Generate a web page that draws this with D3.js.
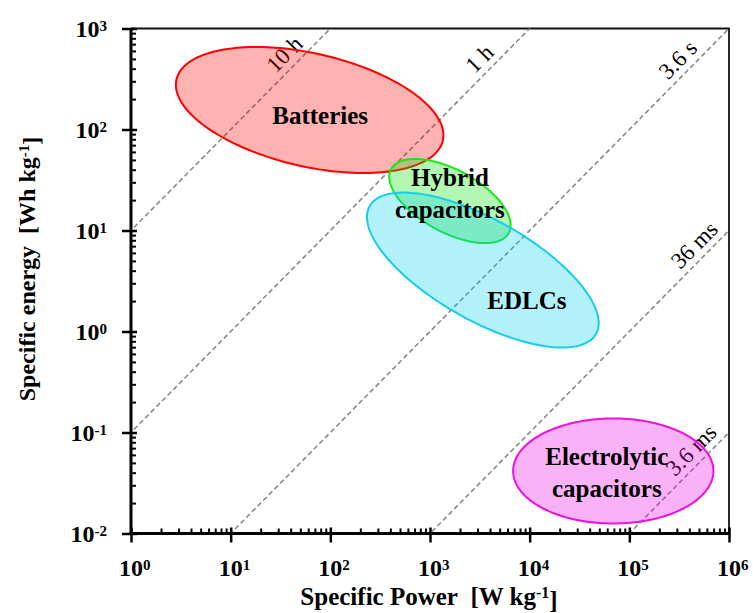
<!DOCTYPE html>
<html>
<head>
<meta charset="utf-8">
<script src="https://cdn.jsdelivr.net/npm/d3@7"></script>
<style>
  body { margin: 0; background: #fff; }
  text { font-family: "Liberation Serif", "Times New Roman", serif; fill: #000; }
</style>
</head>
<body>
<svg id="chart" width="753" height="613"></svg>
<script>
// Axis decades (powers of ten)
const powerExponents = [0, 1, 2, 3, 4, 5, 6];
const energyExponents = [-2, -1, 0, 1, 2, 3];

// Constant discharge-time lines: E = ratio * P (ratio in hours)
const timeLabels = ["10 h", "1 h", "3.6 s", "36 ms", "3.6 ms"];
const timeRatios = [10, 0.1, 1e-3, 1e-5, 1e-7];
const timeLabelPower = [44, 3980, 3.9e5, 5.7e5, 5.3e5];

// Device regions: ellipses in log-log space
const regionNames = ["Batteries", "Hybrid capacitors", "EDLCs", "Electrolytic capacitors"];
const regionCenterPower = [62, 1585, 3390, 69000];
const regionCenterEnergy = [156, 19.6, 4.06, 0.0416];
const regionMajorDecades = [1.37, 0.67, 1.30, 1.005];
const regionMinorDecades = [0.56, 0.31, 0.50, 0.52];
const regionTiltDeg = [-12.7, -28, -29, 0];
const regionStroke = ["#ff0000", "#1ee61e", "#18ccee", "#ee10dd"];
const regionFill = ["#ff0000", "#00e600", "#00cdee", "#f000e6"];

// Region label lines and anchor positions
const regionLabelLines = [["Batteries"], ["Hybrid", "capacitors"], ["EDLCs"], ["Electrolytic", "capacitors"]];
const regionLabelPower = [79, 1585, 9380, 59400];
const regionLabelEnergy = [139, 23.5, 2.05, 0.0407];

const svg = d3.select("#chart");
const x = d3.scaleLog().domain([1, 1e6]).range([131, 729]);
const y = d3.scaleLog().domain([1e-2, 1e3]).range([533.5, 28.5]);
const [x0, x1] = x.range();
const [y0, y1] = y.range();

svg.append("defs").append("clipPath").attr("id", "plot")
  .append("rect").attr("x", x0).attr("y", y1).attr("width", x1 - x0).attr("height", y0 - y1);

// Frame (top and right)
svg.append("path")
  .attr("d", `M${x0},${y1}H${x1}V${y0}`)
  .attr("fill", "none").attr("stroke", "#111").attr("stroke-width", 1.8);

const plot = svg.append("g").attr("clip-path", "url(#plot)");

// Dashed discharge-time lines
timeRatios.forEach(r => {
  const pts = [1e-2, 1e8].map(p => [x(p), y(p * r)]);
  plot.append("line")
    .attr("x1", pts[0][0]).attr("y1", pts[0][1])
    .attr("x2", pts[1][0]).attr("y2", pts[1][1])
    .attr("stroke", "#8a8a8a").attr("stroke-width", 1.6)
    .attr("stroke-dasharray", "5,3");
});

// Line labels, rotated along the 1:1 slope
const angle = Math.atan2(y(1) - y(10), x(10) - x(1)) * 180 / Math.PI;
timeLabels.forEach((lab, i) => {
  const px = x(timeLabelPower[i]);
  const py = y(timeLabelPower[i] * timeRatios[i]);
  svg.append("text")
    .attr("transform", `translate(${px},${py}) rotate(${-angle})`)
    .attr("text-anchor", "middle")
    .attr("dy", "-0.3em")
    .style("font-size", "23px")
    .text(lab);
});

// Region ellipses
const ellipseLine = d3.line().curve(d3.curveLinearClosed);
regionNames.forEach((name, i) => {
  const cx = Math.log10(regionCenterPower[i]);
  const cy = Math.log10(regionCenterEnergy[i]);
  const a = regionMajorDecades[i], b = regionMinorDecades[i];
  const phi = regionTiltDeg[i] * Math.PI / 180;
  const pts = d3.range(0, 360, 2).map(d => {
    const t = d * Math.PI / 180;
    const u = a * Math.cos(t), v = b * Math.sin(t);
    const lp = cx + u * Math.cos(phi) - v * Math.sin(phi);
    const le = cy + u * Math.sin(phi) + v * Math.cos(phi);
    return [x(Math.pow(10, lp)), y(Math.pow(10, le))];
  });
  svg.append("path")
    .attr("d", ellipseLine(pts))
    .attr("fill", regionFill[i]).attr("fill-opacity", 0.3)
    .attr("stroke", regionStroke[i]).attr("stroke-width", 2);
});

// Region labels
regionLabelLines.forEach((lines, i) => {
  const px = x(regionLabelPower[i]);
  const py = y(regionLabelEnergy[i]);
  const lh = 32;
  const t = svg.append("text")
    .attr("text-anchor", "middle")
    .style("font-size", "25px").style("font-weight", "bold");
  lines.forEach((ln, k) => {
    t.append("tspan")
      .attr("x", px)
      .attr("y", py + (k - (lines.length - 1) / 2) * lh)
      .attr("dy", "0.35em")
      .text(ln);
  });
});

// Minor tick values
const minorPower = [];
powerExponents.slice(0, -1).forEach(e => d3.range(2, 10).forEach(m => minorPower.push(m * Math.pow(10, e))));
const minorEnergy = [];
energyExponents.slice(0, -1).forEach(e => d3.range(2, 10).forEach(m => minorEnergy.push(m * Math.pow(10, e))));

function supLabel(sel, exp) {
  sel.text(null);
  sel.append("tspan").text("10");
  sel.append("tspan").attr("dy", "-0.42em").style("font-size", "15px").text(exp);
}

// Bottom axis
const bottom = svg.append("g").attr("transform", `translate(0,${y0})`);
bottom.append("g")
  .call(d3.axisBottom(x).tickValues(minorPower).tickSize(-5).tickFormat(""))
  .call(g => g.select(".domain").remove())
  .call(g => g.selectAll("line").attr("stroke", "#000").attr("stroke-width", 2));
bottom.append("g")
  .call(d3.axisBottom(x).tickValues(powerExponents.map(e => Math.pow(10, e))).tickSize(9).tickFormat(""))
  .call(g => g.select(".domain").attr("stroke", "#000").attr("stroke-width", 3).attr("d", `M${x0 - 1.5},0H${x1}`))
  .call(g => g.selectAll(".tick line").attr("y1", -6).attr("stroke", "#000").attr("stroke-width", 2.5));
powerExponents.forEach(e => {
  const t = svg.append("text")
    .attr("x", x(Math.pow(10, e)) - 12)
    .attr("y", 576)
    .style("font-size", "24px").style("font-weight", "bold");
  supLabel(t, String(e));
});

// Left axis
const left = svg.append("g").attr("transform", `translate(${x0},0)`);
left.append("g")
  .call(d3.axisLeft(y).tickValues(minorEnergy).tickSize(-5).tickFormat(""))
  .call(g => g.select(".domain").remove())
  .call(g => g.selectAll("line").attr("stroke", "#000").attr("stroke-width", 2));
left.append("g")
  .call(d3.axisLeft(y).tickValues(energyExponents.map(e => Math.pow(10, e))).tickSize(9).tickFormat(""))
  .call(g => g.select(".domain").attr("stroke", "#000").attr("stroke-width", 3).attr("d", `M0,${y1}V${y0 + 1.5}`))
  .call(g => g.selectAll(".tick line").attr("x1", 6).attr("stroke", "#000").attr("stroke-width", 2.5));
energyExponents.forEach(e => {
  const t = svg.append("text")
    .attr("x", 107)
    .attr("y", y(Math.pow(10, e)) + 8.5)
    .attr("text-anchor", "end")
    .style("font-size", "24px").style("font-weight", "bold");
  supLabel(t, String(e));
});

// Axis titles
const xt = svg.append("text")
  .attr("x", 429).attr("y", 605)
  .attr("text-anchor", "middle")
  .style("font-size", "25px").style("font-weight", "bold");
xt.append("tspan").text("Specific Power\u00a0 [W kg");
xt.append("tspan").attr("dy", "-0.42em").style("font-size", "16px").text("-1");
xt.append("tspan").attr("dy", "0.42em").text("]");

const yt = svg.append("text")
  .attr("transform", "translate(35,269) rotate(-90)")
  .attr("text-anchor", "middle")
  .style("font-size", "24px").style("font-weight", "bold");
yt.append("tspan").text("Specific energy\u00a0 [Wh kg");
yt.append("tspan").attr("dy", "-0.42em").style("font-size", "15px").text("-1");
yt.append("tspan").attr("dy", "0.42em").text("]");
</script>
</body>
</html>
